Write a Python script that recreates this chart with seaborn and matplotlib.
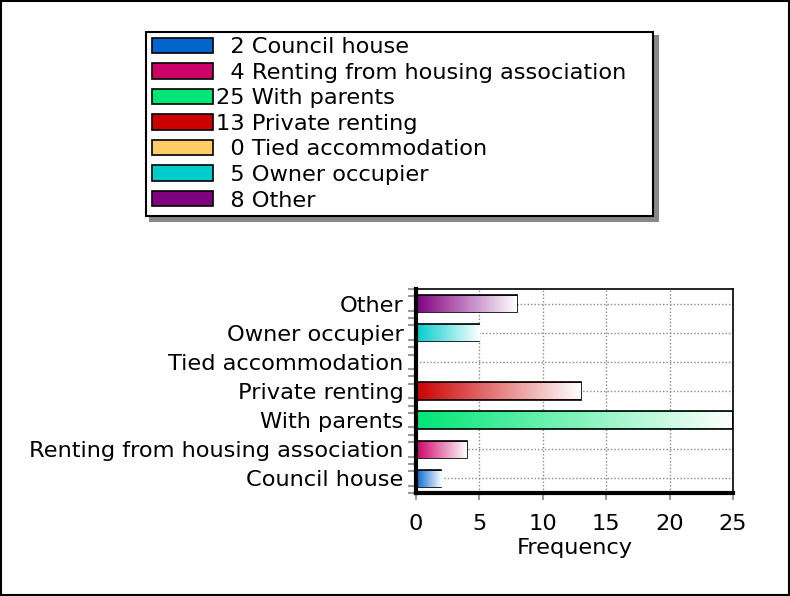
import numpy as np
import pandas as pd
import matplotlib
matplotlib.use("Agg")
import matplotlib.pyplot as plt
import matplotlib.colors as mcolors
from matplotlib.patches import Patch, Rectangle
from matplotlib.ticker import MultipleLocator
import seaborn as sns

categories = ["Council house", "Renting from housing association", "With parents",
              "Private renting", "Tied accommodation", "Owner occupier", "Other"]
counts = [2, 4, 25, 13, 0, 5, 8]
colors = ["#0066CC", "#CC0066", "#00E676", "#CC0000", "#FFCC66", "#00CCCC", "#800080"]
x_ticks = [0, 5, 10, 15, 20, 25]

sns.set_style("white")
plt.rcParams['font.family'] = ['DejaVu Sans']
plt.rcParams['text.color'] = 'black'
plt.rcParams['xtick.labelcolor'] = 'black'
plt.rcParams['ytick.labelcolor'] = 'black'
plt.rcParams['axes.labelcolor'] = 'black'
fs = 16.2

df = pd.DataFrame({"cat": categories, "n": counts})
pal = dict(zip(categories, colors))
order = categories[::-1]

fig = plt.figure(figsize=(7.9, 5.96), dpi=100)
ax = fig.add_axes([0.5266, 0.1728, 0.4013, 0.3423])

sns.barplot(data=df, y="cat", x="n", hue="cat", order=order, palette=pal,
            orient="h", width=0.6, saturation=1, legend=False, ax=ax,
            edgecolor="black", linewidth=1.2)

# gradient fill: full colour on the left fading to white
for p in list(ax.patches):
    x0, y0 = p.get_x(), p.get_y()
    w, h = p.get_width(), p.get_height()
    if w <= 0:
        continue
    rgb = np.array(mcolors.to_rgb(p.get_facecolor()))
    t = np.linspace(0, 1, 256)[:, None]
    grad = rgb * (1 - t) + t
    img = grad[None, :, :]
    ax.imshow(img, extent=[x0, x0 + w * 0.995, y0 + h * 0.97, y0 + h * 0.08], aspect="auto",
              zorder=p.get_zorder() + 0.1, interpolation="bilinear")

ax.set_xlim(0, 25)
ax.set_ylim(6.5, -0.5)
ax.set_xticks(x_ticks)
ax.yaxis.set_minor_locator(MultipleLocator(0.25))
ax.grid(True, which="major", color="#888888", linestyle=(0, (1, 1.5)), linewidth=1)
ax.set_axisbelow(True)
ax.tick_params(axis="y", which="major", length=8, width=1.5, color="#999999", labelsize=fs, pad=1)
ax.tick_params(axis="y", which="minor", length=6, width=1.5, color="#999999", left=True)
ax.tick_params(axis="x", which="major", length=5, width=1.5, color="#999999", labelsize=fs,
               bottom=True, pad=10)
ax.set_xlabel("Frequency", fontsize=fs, labelpad=3)
ax.set_ylabel("")
for side in ["top", "right"]:
    ax.spines[side].set_color("black")
    ax.spines[side].set_linewidth(1.2)
for side in ["left", "bottom"]:
    ax.spines[side].set_color("black")
    ax.spines[side].set_linewidth(3)

handles = [Patch(facecolor=c, edgecolor="black", linewidth=1.2) for c in colors]
labels = [f"{n:>2}".replace(" ", "\u2007") + " " + c + "   " for n, c in zip(counts, categories)]
leg = fig.legend(handles, labels, loc="upper center", bbox_to_anchor=(0.506, 0.947),
                 fontsize=fs, frameon=True, fancybox=False,
                 shadow={"color": "#888888", "alpha": 1, "ox": 3, "oy": -3},
                 edgecolor="black", handlelength=2.7, handleheight=0.68, labelspacing=0.245,
                 handletextpad=0.15, borderpad=0.26, borderaxespad=0)
leg.get_frame().set_linewidth(1.5)

fig.patches.append(Rectangle((0.001, 0.001), 0.998, 0.998, transform=fig.transFigure,
                             fill=False, edgecolor="black", linewidth=1.5))

fig.savefig("out.png", dpi=100)
